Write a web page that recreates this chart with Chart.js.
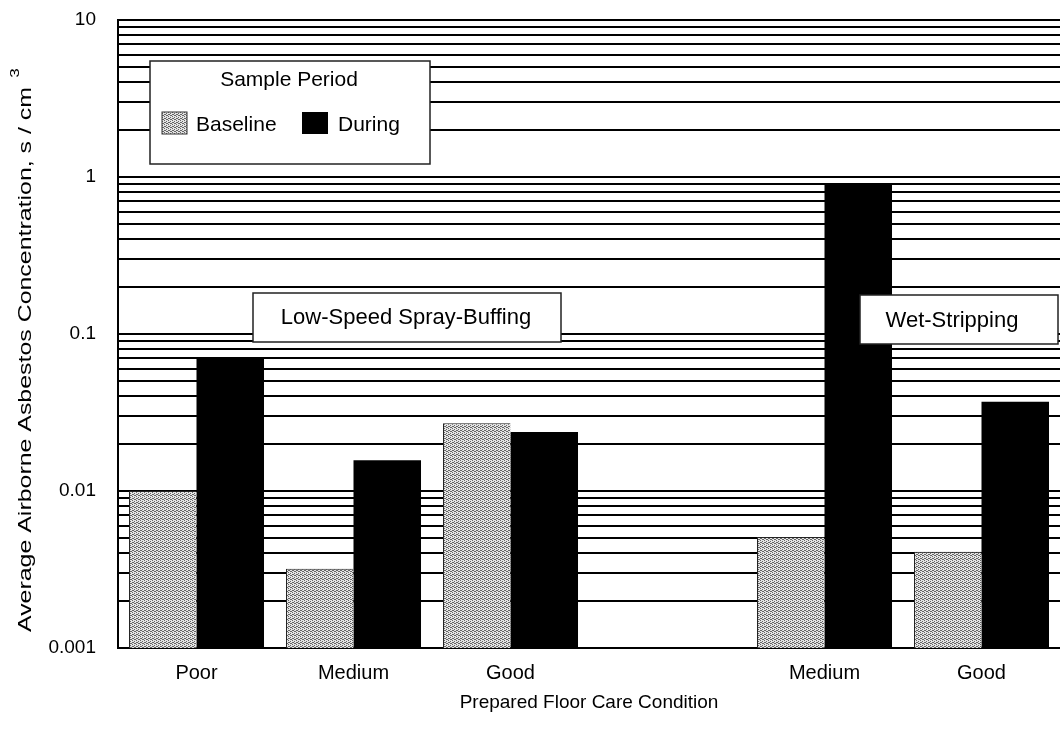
<!DOCTYPE html>
<html>
<head>
<meta charset="utf-8">
<script src="https://cdn.jsdelivr.net/npm/chart.js@4.4.1/dist/chart.umd.min.js"></script>
<style>
  html, body { margin: 0; padding: 0; background: #fff; overflow: hidden; }
  #wrap { width: 1060px; height: 730px; }
</style>
</head>
<body>
<div id="wrap"><canvas id="chart" width="1060" height="730"></canvas></div>
<script>
// floor condition categories (empty slot separates the two methods)
const conditions = ['Poor', 'Medium', 'Good', '', 'Medium', 'Good'];
const baseline = [0.010, 0.0032, 0.027, null, 0.0051, 0.0041];
const during = [0.070, 0.0157, 0.0238, null, 0.89, 0.037];

// log grid: 1..9 per decade
const gridValues = [
  0.001, 0.002, 0.003, 0.004, 0.005, 0.006, 0.007, 0.008, 0.009,
  0.01, 0.02, 0.03, 0.04, 0.05, 0.06, 0.07, 0.08, 0.09,
  0.1, 0.2, 0.3, 0.4, 0.5, 0.6, 0.7, 0.8, 0.9,
  1, 2, 3, 4, 5, 6, 7, 8, 9,
  10
];
const decadeLabels = ['0.001', '0.01', '0.1', '1', '10'];

const FONT = 'Liberation Sans, Arial, Helvetica, sans-serif';

function stipple() {
  const c = document.createElement('canvas');
  c.width = 4; c.height = 4;
  const g = c.getContext('2d');
  g.fillStyle = '#e4e4e4';
  g.fillRect(0, 0, 4, 4);
  g.fillStyle = '#666';
  [[0, 0], [2, 1], [1, 2], [3, 3], [2, 3], [0, 2]].forEach(p => g.fillRect(p[0], p[1], 1, 1));
  return g.createPattern(c, 'repeat');
}
const dots = stipple();

function box(ctx, x, y, w, h) {
  ctx.fillStyle = '#fff';
  ctx.fillRect(x, y, w, h);
  ctx.strokeStyle = '#222';
  ctx.lineWidth = 1.5;
  ctx.strokeRect(x, y, w, h);
}

const annotations = {
  id: 'annotations',
  afterDatasetsDraw(chart) {
    const ctx = chart.ctx;
    ctx.save();
    ctx.textBaseline = 'middle';
    ctx.font = '21px ' + FONT;

    // legend
    box(ctx, 150, 61, 280, 103);
    ctx.fillStyle = '#000';
    ctx.textAlign = 'center';
    ctx.fillText('Sample Period', 289, 80);
    ctx.textAlign = 'left';
    ctx.fillStyle = dots;
    ctx.fillRect(162, 112, 25, 22);
    ctx.strokeStyle = '#333';
    ctx.lineWidth = 1;
    ctx.strokeRect(162, 112, 25, 22);
    ctx.fillStyle = '#000';
    ctx.fillText('Baseline', 196, 125);
    ctx.fillRect(302, 112, 26, 22);
    ctx.fillText('During', 338, 125);

    // method labels
    ctx.font = '22px ' + FONT;
    box(ctx, 253, 293, 308, 49);
    ctx.fillStyle = '#000';
    ctx.textAlign = 'center';
    ctx.fillText('Low-Speed Spray-Buffing', 406, 318);
    box(ctx, 860, 295, 198, 49);
    ctx.fillStyle = '#000';
    ctx.fillText('Wet-Stripping', 952, 321);

    // y axis title, stretched along its length like the scan
    const title = 'Average Airborne Asbestos Concentration, s / cm';
    ctx.font = '19px ' + FONT;
    const w = ctx.measureText(title).width;
    const stretch = 545 / w;
    ctx.translate(31, 632);
    ctx.rotate(-Math.PI / 2);
    ctx.scale(stretch, 1);
    ctx.textAlign = 'left';
    ctx.textBaseline = 'alphabetic';
    ctx.fillText(title, 0, 0);
    ctx.font = '13px ' + FONT;
    ctx.fillText('3', w + 7, -12);
    ctx.restore();
  }
};

new Chart(document.getElementById('chart'), {
  type: 'bar',
  data: {
    labels: conditions,
    datasets: [
      { label: 'Baseline', data: baseline, backgroundColor: dots, borderColor: '#222', borderWidth: { left: 1, top: 1, right: 0, bottom: 0 }, borderSkipped: false },
      { label: 'During', data: during, backgroundColor: '#000', borderWidth: 0 }
    ]
  },
  options: {
    responsive: false,
    animation: false,
    layout: { padding: { top: 20, right: 0, left: 0, bottom: 0 } },
    datasets: { bar: { categoryPercentage: 0.86, barPercentage: 1.0 } },
    plugins: { legend: { display: false }, tooltip: { enabled: false } },
    scales: {
      x: {
        grid: { display: false, drawTicks: false },
        border: { color: '#000', width: 2 },
        ticks: { color: '#000', font: { family: FONT, size: 20 }, padding: 13 },
        title: { display: true, text: 'Prepared Floor Care Condition', color: '#000', font: { family: FONT, size: 19 }, padding: { top: 0, bottom: 16 } },
        afterFit: s => { s.height = 82; }
      },
      y: {
        type: 'logarithmic',
        min: 0.001,
        max: 10,
        afterBuildTicks: s => { s.ticks = gridValues.map(v => ({ value: v })); },
        ticks: {
          autoSkip: false,
          color: '#000',
          font: { family: FONT, size: 19 },
          padding: 22,
          callback: v => decadeLabels.find(t => Math.abs(Number(t) - v) < v * 1e-6) || ''
        },
        grid: { color: '#000', lineWidth: 2, drawTicks: false },
        border: { color: '#000', width: 2 },
        afterFit: s => { s.width = 118; s.paddingTop = 12; s.paddingBottom = 12; }
      }
    }
  },
  plugins: [annotations]
});
</script>
</body>
</html>
